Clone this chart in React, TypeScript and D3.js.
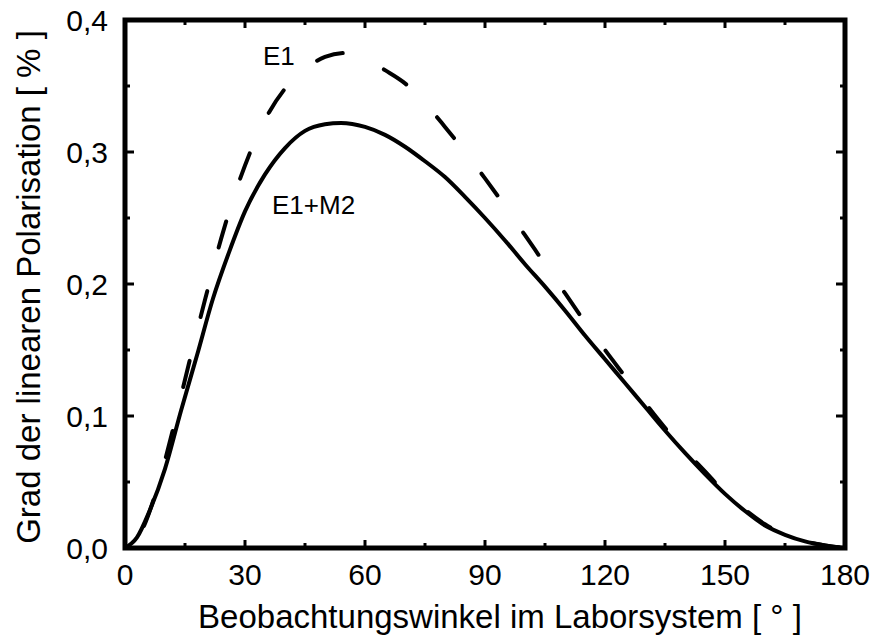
import React, { useEffect, useRef, useState } from "react";
import * as d3 from "d3";

const angles = [0, 3, 6, 10, 14, 18, 22, 26, 30, 35, 40, 45, 50, 54, 60, 65, 70, 75, 80, 85, 90, 95, 100, 105, 110, 115, 120, 125, 130, 135, 140, 145, 150, 155, 160, 165, 170, 175, 180];
const e1m2 = [0, 0.008, 0.027, 0.060, 0.104, 0.146, 0.189, 0.224, 0.255, 0.283, 0.303, 0.316, 0.321, 0.322, 0.319, 0.313, 0.304, 0.293, 0.281, 0.266, 0.250, 0.233, 0.215, 0.198, 0.180, 0.161, 0.143, 0.125, 0.107, 0.089, 0.072, 0.056, 0.041, 0.028, 0.017, 0.010, 0.005, 0.002, 0];

const anglesE1 = [0, 4, 8, 12, 16, 20, 24, 28, 32, 36, 40, 45, 50, 55, 60, 65, 70, 75, 80, 85, 90, 95, 100, 105, 110, 115, 120, 125, 130, 135, 140, 145, 150, 155, 160, 165, 170, 175, 180];
const e1 = [0, 0.012, 0.045, 0.090, 0.140, 0.188, 0.234, 0.273, 0.305, 0.330, 0.348, 0.363, 0.372, 0.375, 0.371, 0.362, 0.352, 0.337, 0.319, 0.300, 0.280, 0.259, 0.237, 0.215, 0.193, 0.171, 0.150, 0.130, 0.110, 0.091, 0.074, 0.058, 0.042, 0.029, 0.018, 0.010, 0.005, 0.002, 0];

const xTicks = [0, 30, 60, 90, 120, 150, 180];
const xMinor = [15, 45, 75, 105, 135, 165];
const yTicks = [0, 0.1, 0.2, 0.3, 0.4];
const yMinor = [0.05, 0.15, 0.25, 0.35];

const fmtY = (v: number) => v.toFixed(1).replace(".", ",");

const DASH = 27, GAP = 45, ANCHOR_ANGLE = 48;

export default function App() {
  const W = 874, H = 637;
  const x0 = 125, x1 = 845, yTop = 20, yBot = 548;
  const x = d3.scaleLinear().domain([0, 180]).range([x0, x1]);
  const y = d3.scaleLinear().domain([0, 0.4]).range([yBot, yTop]);
  const line = d3.line<[number, number]>().x(d => x(d[0])).y(d => y(d[1])).curve(d3.curveMonotoneX);
  const solidPath = line(angles.map((a, i) => [a, e1m2[i]]))!;
  const dashPath = line(anglesE1.map((a, i) => [a, e1[i]]))!;
  const font = "'Liberation Sans', Arial, sans-serif";
  const dashRef = useRef<SVGPathElement>(null);
  const [offset, setOffset] = useState(0);

  useEffect(() => {
    const p = dashRef.current;
    if (!p) return;
    const total = p.getTotalLength();
    const target = x(ANCHOR_ANGLE);
    let lo = 0, hi = total;
    for (let i = 0; i < 40; i++) {
      const mid = (lo + hi) / 2;
      if (p.getPointAtLength(mid).x < target) lo = mid; else hi = mid;
    }
    const period = DASH + GAP;
    const L = lo % period;
    setOffset(period - L);
  }, []);

  return (
    <svg width={W} height={H} style={{ position: "absolute", left: 0, top: 0, background: "#fff" }}>
      <rect x={0} y={0} width={W} height={H} fill="#fff" />
      <path ref={dashRef} d={dashPath} fill="none" stroke="#000" strokeWidth={4} strokeLinecap="round" strokeDasharray={`${DASH} ${GAP}`} strokeDashoffset={offset} />
      <path d={solidPath} fill="none" stroke="#000" strokeWidth={4} />
      {xTicks.map(t => (
        <g key={"xt" + t}>
          <line x1={x(t)} x2={x(t)} y1={yBot} y2={yBot - 8} stroke="#000" strokeWidth={3} />
          <line x1={x(t)} x2={x(t)} y1={yTop} y2={yTop + 8} stroke="#000" strokeWidth={3} />
          <text x={x(t)} y={585} textAnchor="middle" fontFamily={font} fontSize={30} fill="#000">{t}</text>
        </g>
      ))}
      {xMinor.map(t => (
        <g key={"xm" + t}>
          <line x1={x(t)} x2={x(t)} y1={yBot} y2={yBot - 5} stroke="#000" strokeWidth={3} />
          <line x1={x(t)} x2={x(t)} y1={yTop} y2={yTop + 5} stroke="#000" strokeWidth={3} />
        </g>
      ))}
      {yTicks.map(t => (
        <g key={"yt" + t}>
          <line x1={x0} x2={x0 + 9} y1={y(t)} y2={y(t)} stroke="#000" strokeWidth={3} />
          <line x1={x1} x2={x1 - 9} y1={y(t)} y2={y(t)} stroke="#000" strokeWidth={3} />
          <text x={108} y={y(t) + 10.5} textAnchor="end" fontFamily={font} fontSize={30} fill="#000">{fmtY(t)}</text>
        </g>
      ))}
      {yMinor.map(t => (
        <g key={"ym" + t}>
          <line x1={x0} x2={x0 + 5} y1={y(t)} y2={y(t)} stroke="#000" strokeWidth={3} />
          <line x1={x1} x2={x1 - 5} y1={y(t)} y2={y(t)} stroke="#000" strokeWidth={3} />
        </g>
      ))}
      <rect x={x0} y={yTop} width={x1 - x0} height={yBot - yTop} fill="none" stroke="#000" strokeWidth={5} />
      <text x={263} y={65} fontFamily={font} fontSize={26} fill="#000">E1</text>
      <text x={272} y={214} fontFamily={font} fontSize={26} fill="#000">E1+M2</text>
      <text x={500} y={628} textAnchor="middle" fontFamily={font} fontSize={33} fill="#000">Beobachtungswinkel im Laborsystem [ ° ]</text>
      <text transform="translate(40,287) rotate(-90)" textAnchor="middle" fontFamily={font} fontSize={33} fill="#000">Grad der linearen Polarisation [ % ]</text>
    </svg>
  );
}
